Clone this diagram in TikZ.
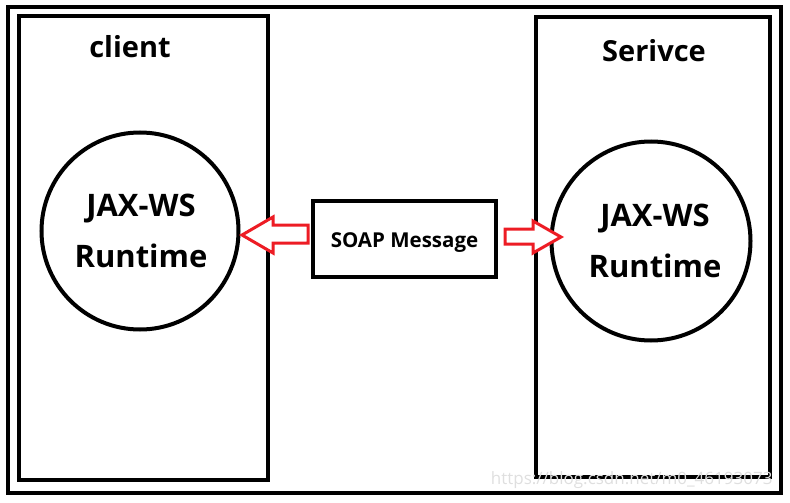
\documentclass[tikz,border=0pt]{standalone}
\usepackage{fontspec}
\setmainfont{Open Sans}
\definecolor{arrred}{RGB}{237,28,36}
\begin{document}
\begin{tikzpicture}[x=1pt,y=-1pt,
  frame/.style={draw=black,line width=4pt},
  lbl/.style={font=\bfseries\fontsize{29}{32}\selectfont},
  big/.style={font=\bfseries\fontsize{31}{51}\selectfont,align=center},
  blockarrow/.style={draw=arrred,line width=3pt,line join=miter,fill=white}]
\useasboundingbox (0,0) rectangle (790,503);
% outer frame
\draw[frame] (8,7) rectangle (781,493);
% client and service boxes
\node[frame,minimum width=249pt,minimum height=464pt,inner sep=0pt] (client) at (143.5,248) {};
\node[frame,minimum width=234pt,minimum height=460pt,inner sep=0pt] (service) at (653,247) {};
\node[lbl] (clientlbl) at (130,47) {client};
\node[lbl] (servicelbl) at (654,51) {Serivce};
% circles
\node[draw,circle,line width=4pt,minimum size=197pt,inner sep=0pt] (cl) at (140,231) {};
\node[big] (cltext) at ([xshift=1pt]cl) {JAX-WS\\Runtime};
\node[draw,circle,line width=4pt,minimum size=199pt,inner sep=0pt] (sr) at (651,241) {};
\node[big] (srtext) at ([xshift=4pt]sr) {JAX-WS\\Runtime};
% SOAP box
\node[frame,minimum width=183pt,minimum height=76pt,inner sep=0pt] (soap) at (404.5,239) {};
\node[font=\bfseries\fontsize{20.5}{24}\selectfont] (soaptext) at ([yshift=-4pt]soap) {SOAP Message};
% block arrows
\draw[blockarrow] (242,235) -- (273,217) -- (273,225) -- (308,225) -- (308,243) -- (273,243) -- (273,253) -- cycle;
\draw[blockarrow] (505,229) -- (533,229) -- (533,221) -- (561,237) -- (533,253) -- (533,244) -- (505,244) -- cycle;
% watermark
\node[text=gray!25,font=\fontsize{17}{20}\selectfont,anchor=east] (wm) at (776,480) {https://blog.csdn.net/m0\_46193073};
\end{tikzpicture}
\end{document}
